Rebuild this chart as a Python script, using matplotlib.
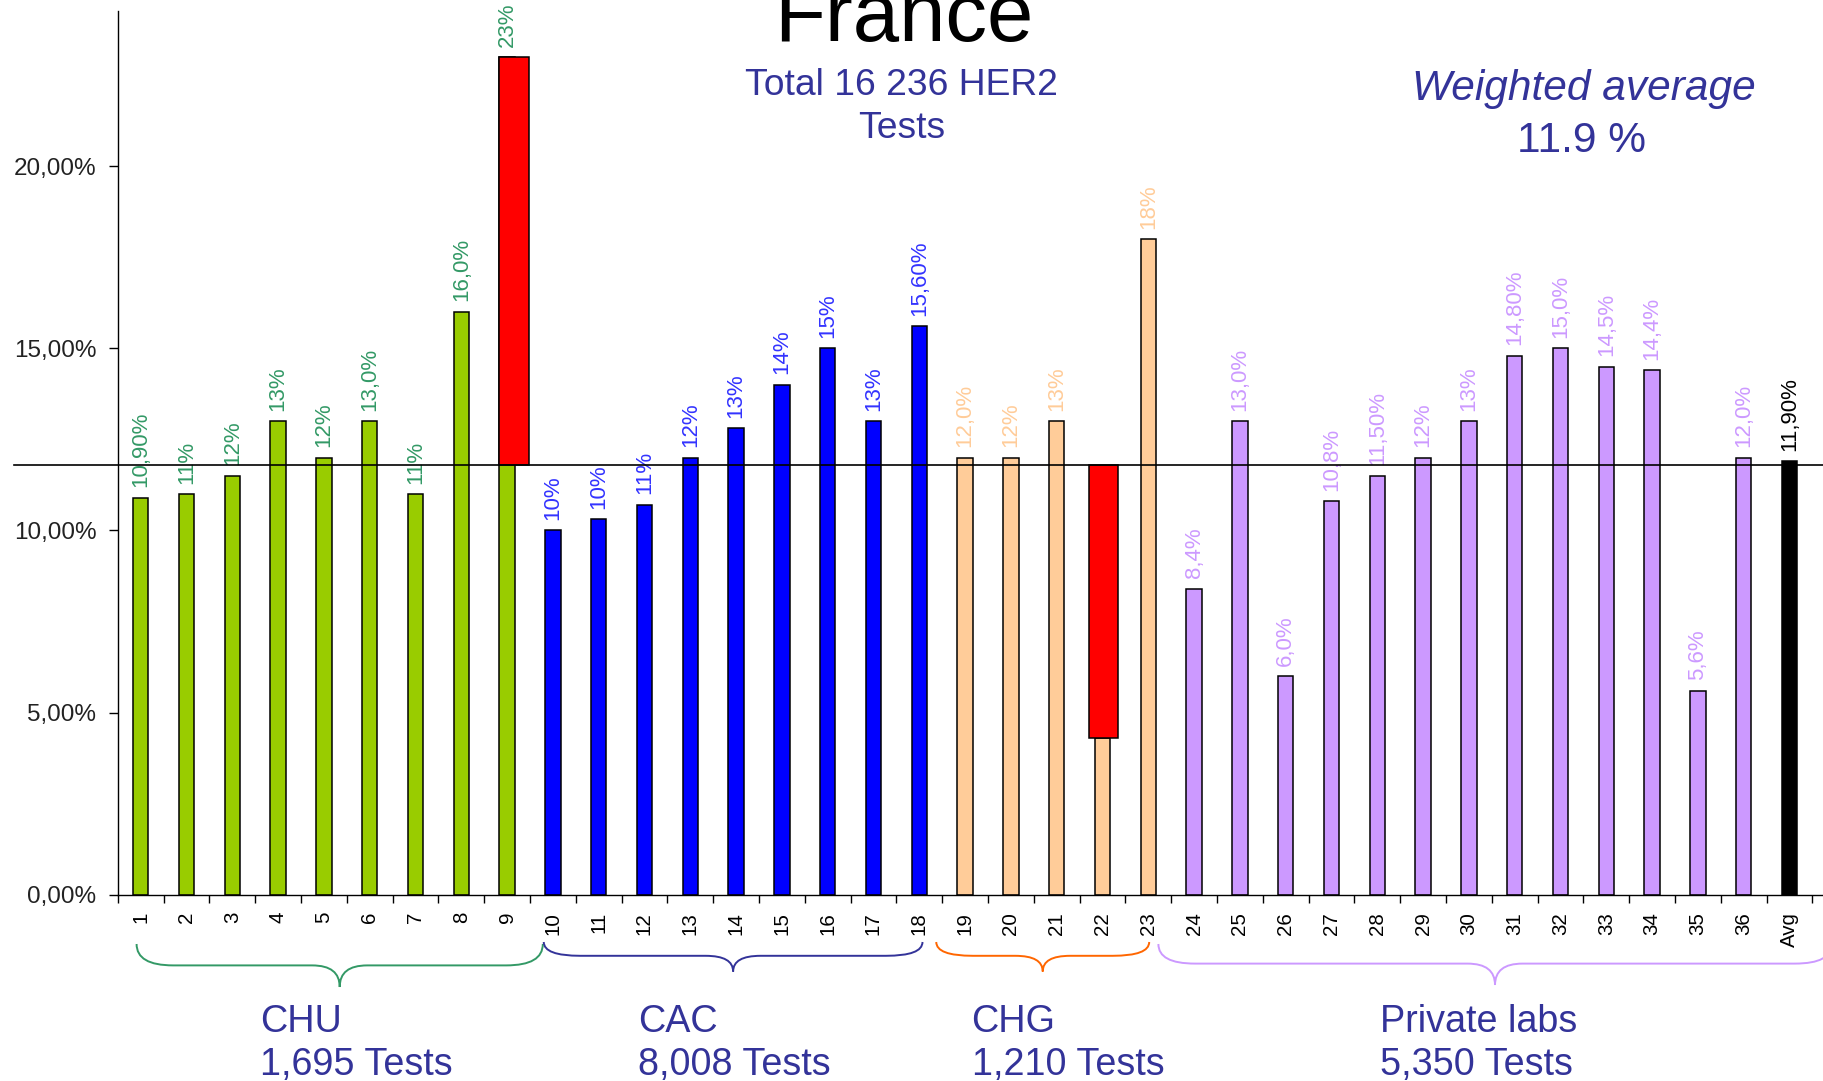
import matplotlib
matplotlib.use("Agg")
import numpy as np
import matplotlib.pyplot as plt
from matplotlib.path import Path
from matplotlib.patches import PathPatch
import matplotlib.transforms as mtransforms
from matplotlib.ticker import FuncFormatter

plt.rcParams['font.family'] = ['Liberation Sans', 'DejaVu Sans']

# ---------------- data ----------------
categories = [str(i) for i in range(1, 37)] + ['Avg']
values = [10.9, 11.0, 11.5, 13.0, 12.0, 13.0, 11.0, 16.0, 23.0,
          10.0, 10.3, 10.7, 12.0, 12.8, 14.0, 15.0, 13.0, 15.6,
          12.0, 12.0, 13.0, 4.3, 18.0,
          8.4, 13.0, 6.0, 10.8, 11.5, 12.0, 13.0, 14.8, 15.0, 14.5, 14.4, 5.6, 12.0,
          11.9]
value_labels = ["10,90%", "11%", "12%", "13%", "12%", "13,0%", "11%", "16,0%", "23%",
                "10%", "10%", "11%", "12%", "13%", "14%", "15%", "13%", "15,60%",
                "12,0%", "12%", "13%", "4,3%", "18%",
                "8,4%", "13,0%", "6,0%", "10,8%", "11,50%", "12%", "13%", "14,80%",
                "15,0%", "14,5%", "14,4%", "5,6%", "12,0%",
                "11,90%"]
group_of_bar = ["CHU"] * 9 + ["CAC"] * 9 + ["CHG"] * 5 + ["PRIV"] * 13 + ["AVG"]

group_keys = ["CHU", "CAC", "CHG", "PRIV"]
group_names = ["CHU", "CAC", "CHG", "Private labs"]
group_tests = ["1,695 Tests", "8,008 Tests", "1,210 Tests", "5,350 Tests"]

avg_line_value = 11.8          # drawn reference line
weighted_average = "11.9 %"
outlier_bars = [8, 21]         # highlighted (red) bars

bar_colors = {"CHU": "#99CC00", "CAC": "#0000FF", "CHG": "#FFCC99",
              "PRIV": "#CC99FF", "AVG": "#000000"}
label_colors = {"CHU": "#339966", "CAC": "#3333FF", "CHG": "#FFCC99",
                "PRIV": "#CC99FF", "AVG": "#000000"}
brace_colors = {"CHU": "#339966", "CAC": "#333399", "CHG": "#FF6600", "PRIV": "#CC99FF"}
navy = "#333399"

# ---------------- figure ----------------
W, H = 1824, 1081
fig = plt.figure(figsize=(W / 100, H / 100), dpi=100)
ax_left, ax_right = 117.8, 1824.0
ax_top, ax_bot = 10.7, 894.6
ax = fig.add_axes([ax_left / W, 1 - ax_bot / H, (ax_right - ax_left) / W, (ax_bot - ax_top) / H])

cat_w = 45.8
x = np.arange(len(categories))
ax.set_xlim(-0.5, -0.5 + (ax_right - ax_left) / cat_w)
ax.set_ylim(0, (ax_bot - ax_top) / 36.42)

cols = [bar_colors[g] for g in group_of_bar]
ax.bar(x, values, width=0.34, color=cols, edgecolor='black', linewidth=1.1, zorder=2)

# red highlight boxes from average line to value
red_offsets = {8: 0.15, 21: 0.02}
for i in outlier_bars:
    lo, hi = sorted([avg_line_value, values[i]])
    ax.bar(x[i] + red_offsets[i], hi - lo, bottom=lo, width=0.64, color='#FF0000',
           edgecolor='black', linewidth=1.1, zorder=3)

# value labels
for i, (v, lab) in enumerate(zip(values, value_labels)):
    ax.annotate(lab, xy=(x[i], v), xytext=(0, 7.5), textcoords='offset points',
                rotation=90, ha='center', va='bottom', fontsize=16,
                color=label_colors[group_of_bar[i]], zorder=2.5)

# average line
trans_ax_data = mtransforms.blended_transform_factory(ax.transAxes, ax.transData)
ax.plot([(14 - ax_left) / (ax_right - ax_left), 1], [avg_line_value, avg_line_value],
        transform=trans_ax_data, color='black', lw=1.2, clip_on=False, zorder=5)

# axes styling
for s in ['top', 'right']:
    ax.spines[s].set_visible(False)
for s in ['left', 'bottom']:
    ax.spines[s].set_linewidth(1.0)
ax.set_yticks([0, 5, 10, 15, 20])
ax.yaxis.set_major_formatter(FuncFormatter(lambda v, p: ("%.2f%%" % v).replace('.', ',')))
ax.tick_params(axis='y', direction='out', length=6.5, width=1.0, pad=9.0,
               labelsize=17.5, labelcolor='#222222')
ax.set_xticks(x)
ax.set_xticklabels(categories, rotation=90, va='top', ha='center')
ax.set_xticks(np.arange(-0.5, len(categories), 1.0), minor=True)
ax.tick_params(axis='x', which='major', length=0, pad=12.5, labelsize=14.8)
ax.tick_params(axis='x', which='minor', direction='out', length=5.4, width=1.0)

# braces
trans_brace = mtransforms.blended_transform_factory(ax.transData, fig.transFigure)
brace_x0 = [-0.09, 8.80, 17.37, 22.22]
brace_x1 = [8.78, 17.07, 22.02, 36.92]
brace_y = {"CHU": (944, 965.4, 987), "CAC": (942, 955.8, 971.5),
           "CHG": (942, 955.8, 971.5), "PRIV": (944, 963.6, 985)}


def fy(px):
    return 1 - px / H


for key, x0, x1 in zip(group_keys, brace_x0, brace_x1):
    ye, yl, yt = (fy(v) for v in brace_y[key])
    xm = (x0 + x1) / 2
    r_end, r_mid = 0.8, 0.6
    verts = [(x0, ye), (x0, yl), (x0 + r_end, yl),
             (xm - r_mid, yl), (xm, yl), (xm, yt),
             (xm, yl), (xm + r_mid, yl),
             (x1 - r_end, yl), (x1, yl), (x1, ye)]
    codes = [Path.MOVETO, Path.CURVE3, Path.CURVE3, Path.LINETO, Path.CURVE3, Path.CURVE3,
             Path.CURVE3, Path.CURVE3, Path.LINETO, Path.CURVE3, Path.CURVE3]
    patch = PathPatch(Path(verts, codes), facecolor='none', edgecolor=brace_colors[key],
                      lw=1.4, transform=trans_brace, clip_on=False)
    fig.add_artist(patch)

# group labels
group_label_x = [260.5, 638.5, 971.5, 1380.0]
for gx, name, tests in zip(group_label_x, group_names, group_tests):
    fig.text(gx / W, fy(1032.0), name, ha='left', va='baseline', fontsize=27.2, color=navy)
    fig.text(gx / W, fy(1075.5), tests, ha='left', va='baseline', fontsize=27.2, color=navy)

# titles
fig.text(903.5 / W, fy(41), "France", ha='center', va='baseline', fontsize=60, color='black')
fig.text(901.5 / W, fy(94.6), "Total 16 236 HER2", ha='center', va='baseline',
         fontsize=26.8, color=navy)
fig.text(901.5 / W, fy(137.5), "Tests", ha='center', va='baseline', fontsize=26.8, color=navy)
fig.text(1584 / W, fy(100), "Weighted average", ha='center', va='baseline',
         fontsize=30.5, color=navy, style='italic')
fig.text(1582 / W, fy(151.8), weighted_average, ha='center', va='baseline',
         fontsize=30.5, color=navy)

fig.savefig("out.png", dpi=100)
